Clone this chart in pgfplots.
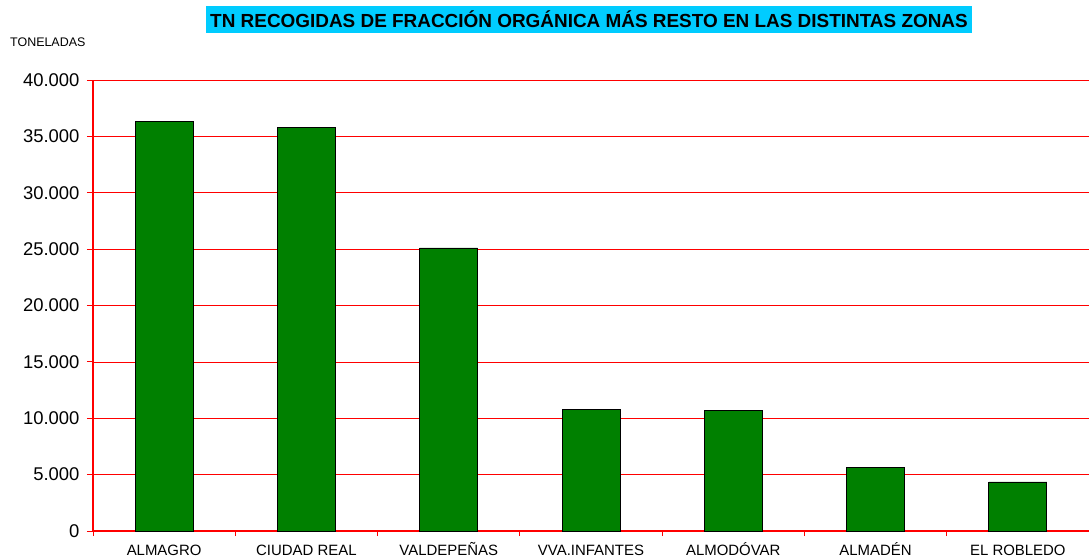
\documentclass[border=0pt]{standalone}
\usepackage{fontspec}
\setmainfont{Liberation Sans}
\usepackage{pgfplots}
\pgfplotsset{compat=1.18}
\definecolor{barg}{RGB}{0,128,0}
\definecolor{titlec}{RGB}{0,204,255}
\begin{document}
\begin{tikzpicture}
\begin{axis}[
  at={(0,0)}, anchor=south west,
  scale only axis,
  width=996bp, height=451bp,
  xmin=-0.5, xmax=6.5,
  ymin=0, ymax=40000,
  ytick={0,5000,...,40000},
  scaled y ticks=false,
  xtick={0,1,2,3,4,5,6},
  xticklabels={ALMAGRO,CIUDAD REAL,VALDEPEÑAS,VVA.INFANTES,ALMODÓVAR,ALMADÉN,EL ROBLEDO},
  minor xtick={-0.5,0.5,1.5,2.5,3.5,4.5,5.5},
  axis x line=bottom, axis y line=left,
  axis line style={draw=red, line width=1.5bp, -},
  ymajorgrids,
  major grid style={draw=red, line width=0.7bp},
  tick align=outside,
  major x tick style={draw=none},
  minor x tick style={draw=red, line width=0.8bp},
  minor tick length=5bp,
  major tick length=6bp,
  ytick style={draw=red, line width=0.8bp},
  yticklabel={\pgfmathprintnumber[fixed, precision=0, 1000 sep={.}, assume math mode=true]{\tick}},
  yticklabel style={font=\fontsize{18.5}{20}\selectfont, xshift=-4bp},
  xticklabel style={font=\fontsize{15}{17}\selectfont, anchor=base, yshift=-18bp},
  clip=false,
]
\addplot[ybar, bar width=58bp, fill=barg, draw=black, line width=0.9bp]
coordinates {(0,36300) (1,35750) (2,25100) (3,10800) (4,10650) (5,5600) (6,4350)};
\end{axis}
\node[fill=titlec, inner xsep=4bp, minimum height=27bp, font=\bfseries\fontsize{19}{21}\selectfont] at (496bp,511.5bp) {TN RECOGIDAS DE FRACCIÓN ORGÁNICA MÁS RESTO EN LAS DISTINTAS ZONAS};
\node[anchor=west, inner sep=0pt, font=\fontsize{12.5}{14}\selectfont] at (-83bp,489bp) {TONELADAS};
\pgfresetboundingbox
\path[use as bounding box] (-93bp,-29bp) rectangle (996bp,531bp);
\end{tikzpicture}
\end{document}
